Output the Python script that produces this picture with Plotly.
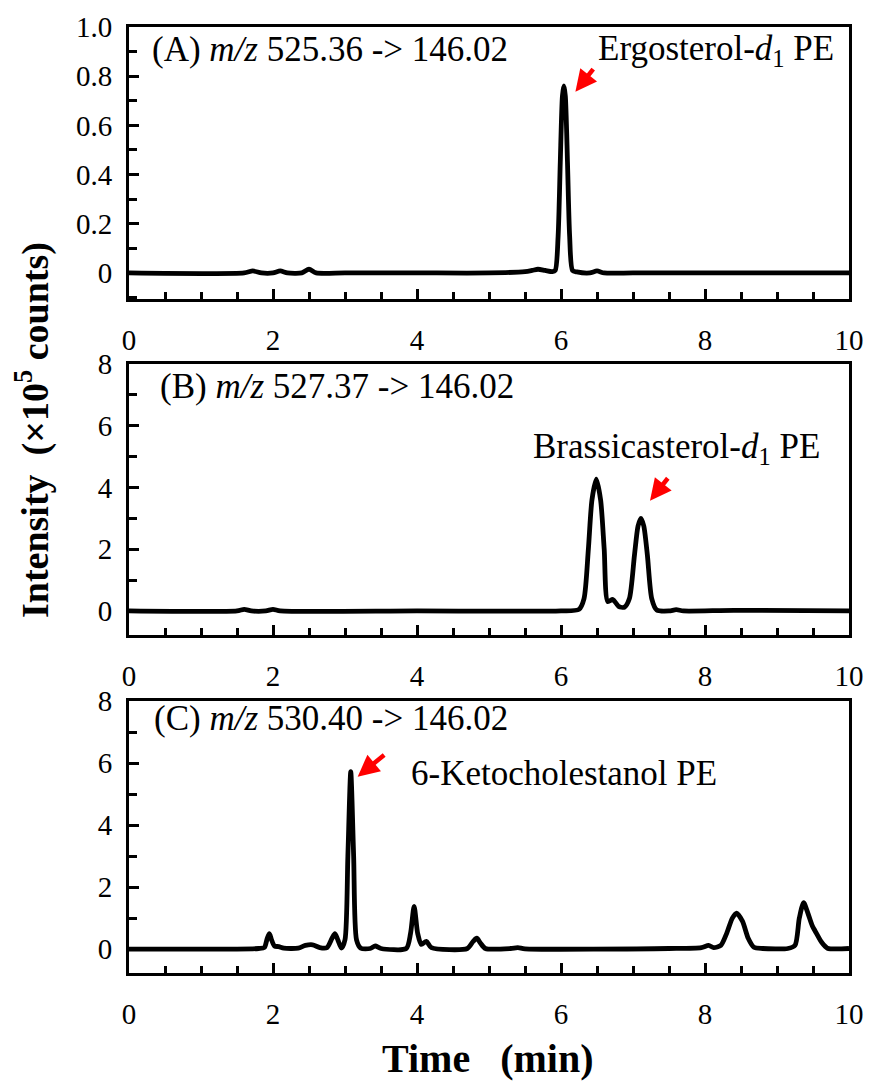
import plotly.graph_objects as go

# ---- chromatogram traces (time in min, intensity in 1e5 counts) ----
a_time = [0, 1.6, 1.72, 1.84, 2.0, 2.1, 2.2, 2.4, 2.5, 2.6, 3.0, 4.0, 5.0, 5.5, 5.6, 5.68,
          5.78, 5.88, 5.92, 5.96, 5.99, 6.02, 6.04, 6.06, 6.09, 6.12, 6.16, 6.22, 6.4, 6.5,
          6.6, 7.0, 8.0, 10.0]
a_int = [0, 0, 0.008, 0, 0, 0.008, 0, 0, 0.015, 0, 0, 0, 0, 0.005, 0.01, 0.015,
         0.01, 0.005, 0.01, 0.15, 0.45, 0.72, 0.76, 0.72, 0.45, 0.15, 0.01, 0.004, 0, 0.008,
         0, 0, 0, 0]

b_time = [0, 1.5, 1.6, 1.7, 1.9, 2.0, 2.1, 4.0, 6.0, 6.25, 6.32, 6.38, 6.43, 6.49, 6.55,
          6.6, 6.65, 6.72, 6.8, 6.88, 6.95, 7.02, 7.07, 7.11, 7.15, 7.2, 7.26, 7.33, 7.5,
          7.6, 7.7, 8.4, 10.0]
b_int = [0, 0, 0.05, 0, 0, 0.05, 0, 0, 0, 0.05, 0.4, 2.0, 3.6, 4.27, 3.6,
         2.0, 0.3, 0.37, 0.15, 0.12, 0.4, 1.8, 2.75, 3.0, 2.75, 1.8, 0.4, 0.03, 0,
         0.04, 0, 0.02, 0]

c_time = [0, 1.5, 1.8, 1.88, 1.92, 1.95, 1.98, 2.02, 2.08, 2.15, 2.35, 2.45, 2.55, 2.65,
          2.75, 2.82, 2.86, 2.9, 2.95, 3.0, 3.04, 3.08, 3.12, 3.16, 3.22, 3.35, 3.42, 3.5,
          3.85, 3.91, 3.96, 4.01, 4.06, 4.13, 4.2, 4.7, 4.78, 4.83, 4.88, 4.95, 5.3, 5.4,
          5.5, 7.5, 7.95, 8.05, 8.12, 8.22, 8.3, 8.38, 8.44, 8.52, 8.6, 8.68, 8.8, 9.15,
          9.25, 9.31, 9.37, 9.43, 9.49, 9.55, 9.62, 9.7, 10.0]
c_int = [0, 0, 0.02, 0.05, 0.35, 0.5, 0.3, 0.1, 0.08, 0.03, 0.03, 0.12, 0.14, 0.05,
         0.05, 0.35, 0.5, 0.3, 0.03, 0.3, 3.0, 5.72, 3.0, 0.3, 0.03, 0.02, 0.1, 0.02,
         0.02, 0.5, 1.38, 0.5, 0.15, 0.25, 0.05, 0.02, 0.25, 0.35, 0.2, 0.02, 0.02, 0.05,
         0.01, 0.02, 0.05, 0.12, 0.05, 0.12, 0.5, 1.0, 1.16, 0.9, 0.35, 0.06, 0.02, 0.02,
         0.12, 1.0, 1.5, 1.15, 0.75, 0.5, 0.22, 0.03, 0.02]

panel_labels = ["(A) <i>m/z</i> 525.36 -&gt; 146.02",
                "(B) <i>m/z</i> 527.37 -&gt; 146.02",
                "(C) <i>m/z</i> 530.40 -&gt; 146.02"]
compound_labels = ["Ergosterol-<i>d</i><sub>1</sub> PE",
                   "Brassicasterol-<i>d</i><sub>1</sub> PE",
                   "6-Ketocholestanol PE"]
# arrow tips (time, intensity) pointing at the labelled peaks
arrow_tips = [(6.20, 0.737), (7.236, 3.57), (3.176, 5.56)]

x_ticks = [0, 2, 4, 6, 8, 10]
y_ticks_a = [0, 0.2, 0.4, 0.6, 0.8, 1.0]
y_text_a = ["0", "0.2", "0.4", "0.6", "0.8", "1.0"]
y_ticks_bc = [0, 2, 4, 6, 8]

SERIF = "Liberation Serif"
W, H = 872, 1081

fig = go.Figure()
series = [(a_time, a_int), (b_time, b_int), (c_time, c_int)]
for i, (t, v) in enumerate(series):
    sfx = "" if i == 0 else str(i + 1)
    fig.add_trace(go.Scatter(x=t, y=v, mode="lines", xaxis="x" + sfx, yaxis="y" + sfx,
                             line=dict(color="black", width=4.8, shape="spline", smoothing=0.7),
                             showlegend=False, hoverinfo="skip"))

# panel boxes in pixels (top, bottom)
boxes = [(27, 299), (364, 635), (701, 973)]
x_left, x_right = 129, 849
y_ranges = [[-0.106, 1.0], [-0.78, 8], [-0.77, 8]]

layout = dict(width=W, height=H, margin=dict(l=0, r=0, t=0, b=0, autoexpand=False),
              plot_bgcolor="white", paper_bgcolor="white",
              font=dict(family=SERIF, size=28, color="black"))

for i, (top, bot) in enumerate(boxes):
    sfx = "" if i == 0 else str(i + 1)
    ydom = [1 - bot / H, 1 - top / H]
    layout["xaxis" + sfx] = dict(
        domain=[x_left / W, x_right / W], range=[0, 10], anchor="y" + sfx,
        automargin=False,
        showline=True, linewidth=3, linecolor="black", mirror=True,
        ticks="inside", ticklen=10, tickwidth=2.5, tickcolor="black",
        tickvals=x_ticks, showgrid=False, zeroline=False,
        ticklabelstandoff=13,
        tickfont=dict(family=SERIF, size=29),
        minor=dict(dtick=0.5, tick0=0, ticks="inside", ticklen=7, tickwidth=2.5,
                   tickcolor="black", showgrid=False))
    if i == 0:
        yt, ytx, mdt = y_ticks_a, y_text_a, 0.1
    else:
        yt, ytx, mdt = y_ticks_bc, [str(v) for v in y_ticks_bc], 1
    layout["yaxis" + sfx] = dict(
        domain=ydom, range=y_ranges[i], anchor="x" + sfx,
        automargin=False,
        showline=True, linewidth=3, linecolor="black", mirror=True,
        ticks="inside", ticklen=10, tickwidth=2.5, tickcolor="black",
        tickvals=yt, ticktext=ytx, showgrid=False, zeroline=False,
        ticklabelstandoff=8,
        tickfont=dict(family=SERIF, size=29),
        minor=dict(dtick=mdt, tick0=0, ticks="inside", ticklen=8, tickwidth=2.5,
                   tickcolor="black", showgrid=False))

annotations = []
label_pos = [(0.029, 0.918), (0.040, 0.918), (0.032, 0.935)]
comp_pos = [(0.982, 0.915, "right"), (0.9625, 0.688, "right"), (0.389, 0.733, "left")]
arrow_off = [(19, -24), (19, -24), (28, -23)]
for i in range(3):
    sfx = "" if i == 0 else str(i + 1)
    annotations.append(dict(text=panel_labels[i], xref="x%s domain" % sfx, yref="y%s domain" % sfx,
                            x=label_pos[i][0], y=label_pos[i][1], xanchor="left", yanchor="middle",
                            showarrow=False, font=dict(family=SERIF, size=35)))
    annotations.append(dict(text=compound_labels[i], xref="x%s domain" % sfx, yref="y%s domain" % sfx,
                            x=comp_pos[i][0], y=comp_pos[i][1], xanchor=comp_pos[i][2], yanchor="middle",
                            showarrow=False, font=dict(family=SERIF, size=35)))
    annotations.append(dict(text="", xref="x" + sfx, yref="y" + sfx,
                            x=arrow_tips[i][0], y=arrow_tips[i][1],
                            ax=arrow_off[i][0], ay=arrow_off[i][1],
                            showarrow=True, arrowhead=2, arrowsize=0.95, arrowwidth=4.5,
                            arrowcolor="#ff0000"))

annotations.append(dict(text="Intensity\u2002(×10<sup>5</sup> counts)", xref="paper", yref="paper",
                        x=32 / W, y=1 - 430 / H, textangle=-90, showarrow=False,
                        xanchor="center", yanchor="middle",
                        font=dict(family=SERIF, size=38, weight="bold")))
annotations.append(dict(text="Time\u2002 (min)", xref="paper", yref="paper",
                        x=487 / W, y=1 - 1058 / H, showarrow=False,
                        xanchor="center", yanchor="middle",
                        font=dict(family=SERIF, size=40, weight="bold")))
layout["annotations"] = annotations

fig.update_layout(**layout)
fig.write_html("out.html")
